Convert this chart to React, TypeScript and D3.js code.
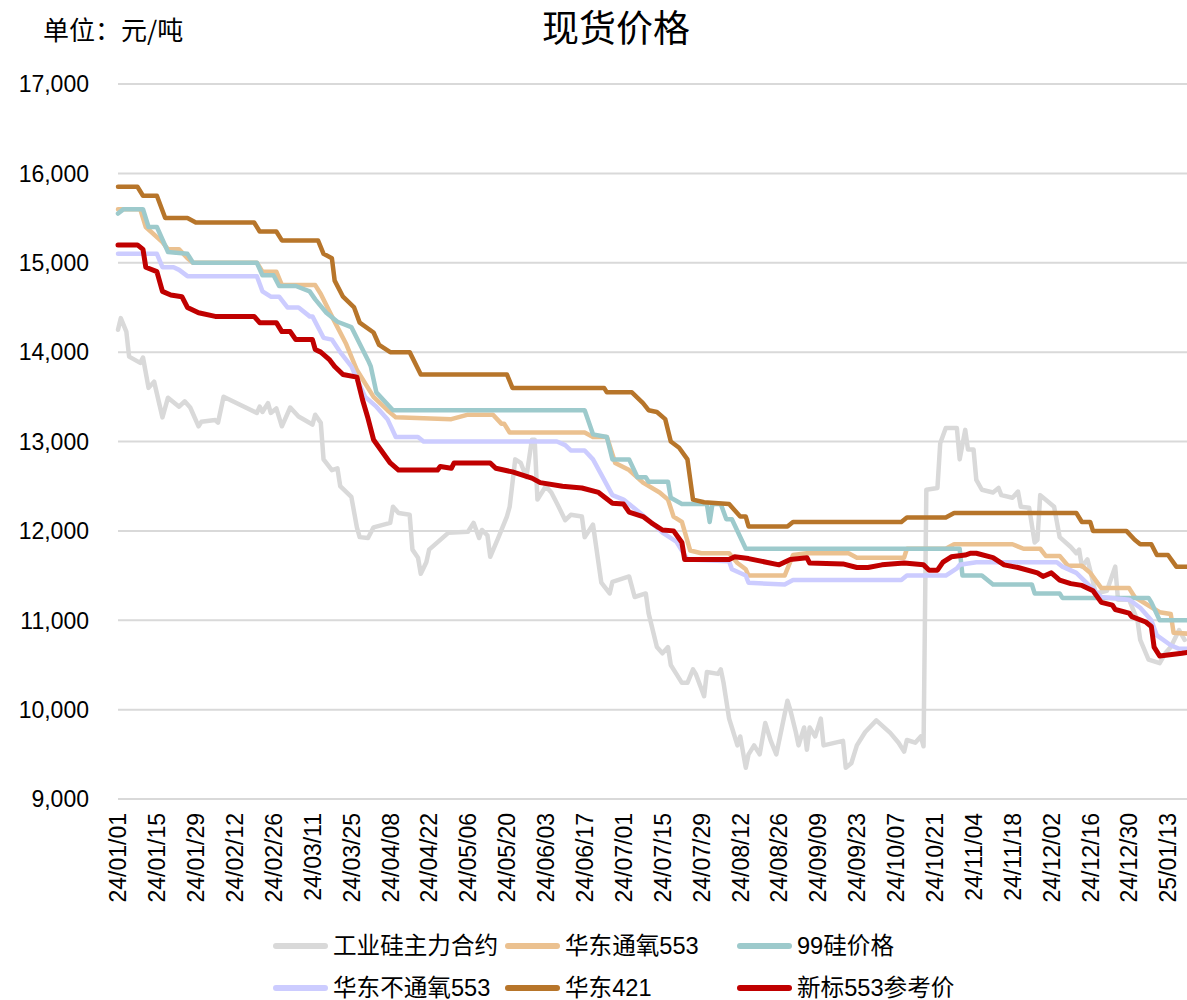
import React, { useEffect, useRef } from 'react';
import * as d3 from 'd3';

type Pt = [string, number];

// 工业硅主力合约
const gyg: Pt[] = [
  ['24-01-01', 14250], ['24-01-02', 14380], ['24-01-04', 14230], ['24-01-05', 13950], ['24-01-09', 13880],
  ['24-01-10', 13940], ['24-01-12', 13600], ['24-01-14', 13670], ['24-01-17', 13270], ['24-01-19', 13490],
  ['24-01-23', 13390], ['24-01-25', 13450], ['24-01-27', 13380], ['24-01-30', 13170], ['24-01-31', 13220],
  ['24-02-05', 13240], ['24-02-06', 13210], ['24-02-08', 13500], ['24-02-20', 13320], ['24-02-21', 13390],
  ['24-02-22', 13330], ['24-02-24', 13430], ['24-02-25', 13320], ['24-02-27', 13370], ['24-02-29', 13170],
  ['24-03-03', 13380], ['24-03-06', 13280], ['24-03-11', 13190], ['24-03-12', 13300], ['24-03-14', 13210],
  ['24-03-15', 12800], ['24-03-18', 12680], ['24-03-20', 12700], ['24-03-21', 12500], ['24-03-25', 12380],
  ['24-03-27', 12040], ['24-03-28', 11930], ['24-03-31', 11920], ['24-04-02', 12040], ['24-04-08', 12090],
  ['24-04-09', 12270], ['24-04-11', 12200], ['24-04-15', 12180], ['24-04-16', 11790], ['24-04-18', 11700],
  ['24-04-19', 11520], ['24-04-21', 11650], ['24-04-22', 11790], ['24-04-29', 11980], ['24-05-06', 11990],
  ['24-05-08', 12090], ['24-05-10', 11920], ['24-05-11', 12010], ['24-05-13', 11950], ['24-05-14', 11710],
  ['24-05-17', 11930], ['24-05-20', 12160], ['24-05-21', 12270], ['24-05-23', 12800], ['24-05-25', 12760],
  ['24-05-27', 12600], ['24-05-29', 13020], ['24-05-30', 13020], ['24-05-31', 12350], ['24-06-03', 12500],
  ['24-06-05', 12430], ['24-06-07', 12310], ['24-06-10', 12120], ['24-06-12', 12180], ['24-06-16', 12160],
  ['24-06-17', 11930], ['24-06-20', 12070], ['24-06-23', 11420], ['24-06-26', 11300], ['24-06-27', 11430],
  ['24-07-03', 11490], ['24-07-05', 11260], ['24-07-09', 11300], ['24-07-10', 11080], ['24-07-13', 10700],
  ['24-07-15', 10630], ['24-07-17', 10700], ['24-07-18', 10500], ['24-07-20', 10400], ['24-07-22', 10300],
  ['24-07-24', 10300], ['24-07-26', 10450], ['24-07-27', 10400], ['24-07-30', 10150], ['24-07-31', 10420],
  ['24-08-04', 10400], ['24-08-05', 10450], ['24-08-06', 10300], ['24-08-08', 9900], ['24-08-09', 9800],
  ['24-08-11', 9600], ['24-08-12', 9700], ['24-08-14', 9350], ['24-08-15', 9500], ['24-08-17', 9600],
  ['24-08-19', 9500], ['24-08-21', 9850], ['24-08-23', 9650], ['24-08-25', 9500], ['24-08-27', 9800],
  ['24-08-29', 10100], ['24-08-30', 10000], ['24-09-01', 9750], ['24-09-02', 9600], ['24-09-04', 9800],
  ['24-09-05', 9550], ['24-09-06', 9800], ['24-09-08', 9700], ['24-09-10', 9900], ['24-09-11', 9600],
  ['24-09-18', 9650], ['24-09-19', 9350], ['24-09-21', 9400], ['24-09-23', 9600], ['24-09-26', 9750],
  ['24-09-30', 9880], ['24-10-05', 9740], ['24-10-08', 9630], ['24-10-10', 9530], ['24-10-11', 9660],
  ['24-10-14', 9630], ['24-10-16', 9700], ['24-10-17', 9590], ['24-10-18', 12460], ['24-10-22', 12480],
  ['24-10-23', 12980], ['24-10-25', 13150], ['24-10-29', 13150], ['24-10-30', 12800], ['24-11-01', 13130],
  ['24-11-02', 12910], ['24-11-04', 12910], ['24-11-05', 12570], ['24-11-07', 12460], ['24-11-11', 12430],
  ['24-11-13', 12480], ['24-11-14', 12400], ['24-11-18', 12370], ['24-11-20', 12440], ['24-11-21', 12270],
  ['24-11-24', 12260], ['24-11-26', 11870], ['24-11-27', 11900], ['24-11-28', 12400], ['24-12-03', 12270],
  ['24-12-05', 11930], ['24-12-09', 11820], ['24-12-11', 11750], ['24-12-12', 11790], ['24-12-13', 11600],
  ['24-12-15', 11680], ['24-12-16', 11560], ['24-12-18', 11300], ['24-12-22', 11330], ['24-12-25', 11600],
  ['24-12-26', 11230], ['24-12-30', 11230], ['25-01-02', 11000], ['25-01-03', 10780], ['25-01-06', 10560],
  ['25-01-10', 10520], ['25-01-12', 10630], ['25-01-14', 10700], ['25-01-17', 10890], ['25-01-19', 10780],
];

// 华东通氧553
const hdty553: Pt[] = [
  ['24-01-01', 15600], ['24-01-09', 15600], ['24-01-11', 15400], ['24-01-17', 15230], ['24-01-19', 15150],
  ['24-01-23', 15150], ['24-01-26', 15050], ['24-01-28', 15000], ['24-02-20', 15000], ['24-02-22', 14900],
  ['24-02-27', 14900], ['24-02-29', 14750], ['24-03-12', 14750], ['24-03-14', 14650], ['24-03-18', 14400],
  ['24-03-23', 14100], ['24-03-27', 13800], ['24-04-02', 13500], ['24-04-07', 13350], ['24-04-10', 13270],
  ['24-04-30', 13250], ['24-05-06', 13300], ['24-05-15', 13300], ['24-05-18', 13200], ['24-05-19', 13200],
  ['24-05-21', 13100], ['24-06-17', 13100], ['24-06-20', 13050], ['24-06-25', 13050], ['24-06-28', 12760],
  ['24-07-03', 12680], ['24-07-08', 12540], ['24-07-14', 12430], ['24-07-17', 12350], ['24-07-19', 12160],
  ['24-07-22', 12100], ['24-07-25', 11780], ['24-07-29', 11750], ['24-08-08', 11750], ['24-08-11', 11640],
  ['24-08-14', 11570], ['24-08-15', 11500], ['24-08-28', 11500], ['24-08-31', 11730], ['24-09-05', 11750],
  ['24-09-20', 11750], ['24-09-23', 11700], ['24-10-10', 11700], ['24-10-11', 11800], ['24-10-25', 11800],
  ['24-10-28', 11850], ['24-11-18', 11850], ['24-11-22', 11800], ['24-11-28', 11800], ['24-11-30', 11720],
  ['24-12-05', 11720], ['24-12-08', 11610], ['24-12-13', 11610], ['24-12-16', 11530], ['24-12-20', 11360],
  ['24-12-30', 11360], ['25-01-01', 11260], ['25-01-10', 11090], ['25-01-14', 11070], ['25-01-15', 10860],
  ['25-01-20', 10850],
];

// 99硅价格
const si99: Pt[] = [
  ['24-01-01', 15550], ['24-01-03', 15600], ['24-01-10', 15600], ['24-01-12', 15400], ['24-01-15', 15400],
  ['24-01-19', 15120], ['24-01-26', 15100], ['24-01-28', 15000], ['24-02-20', 15000], ['24-02-22', 14860],
  ['24-02-26', 14860], ['24-02-28', 14740], ['24-03-05', 14740], ['24-03-10', 14680], ['24-03-12', 14590],
  ['24-03-16', 14440], ['24-03-20', 14340], ['24-03-25', 14280], ['24-03-31', 13910], ['24-04-01', 13840],
  ['24-04-03', 13550], ['24-04-09', 13350], ['24-06-17', 13350], ['24-06-20', 13080], ['24-06-25', 13050],
  ['24-06-27', 12800], ['24-07-03', 12800], ['24-07-06', 12600], ['24-07-09', 12600], ['24-07-10', 12550],
  ['24-07-17', 12550], ['24-07-18', 12370], ['24-07-22', 12300], ['24-07-31', 12300], ['24-08-01', 12100],
  ['24-08-02', 12300], ['24-08-05', 12300], ['24-08-07', 12130], ['24-08-09', 12130], ['24-08-14', 11800],
  ['24-10-30', 11800], ['24-10-31', 11500], ['24-11-07', 11500], ['24-11-11', 11400], ['24-11-25', 11400],
  ['24-11-26', 11300], ['24-12-05', 11300], ['24-12-06', 11250], ['25-01-06', 11250], ['25-01-07', 11200],
  ['25-01-10', 11000], ['25-01-20', 11000],
];

// 华东不通氧553
const hdbty553: Pt[] = [
  ['24-01-01', 15100], ['24-01-15', 15100], ['24-01-17', 14950], ['24-01-21', 14950], ['24-01-23', 14920],
  ['24-01-26', 14850], ['24-02-20', 14850], ['24-02-22', 14680], ['24-02-25', 14620], ['24-02-28', 14620],
  ['24-03-02', 14500], ['24-03-06', 14500], ['24-03-10', 14400], ['24-03-11', 14400], ['24-03-15', 14160],
  ['24-03-18', 14140], ['24-03-21', 14000], ['24-03-25', 13840], ['24-03-30', 13500], ['24-04-03', 13390],
  ['24-04-07', 13250], ['24-04-10', 13050], ['24-04-18', 13050], ['24-04-20', 13000], ['24-06-07', 13000],
  ['24-06-10', 12960], ['24-06-12', 12900], ['24-06-17', 12900], ['24-06-20', 12800], ['24-06-23', 12630],
  ['24-06-27', 12400], ['24-07-01', 12350], ['24-07-07', 12200], ['24-07-10', 12120], ['24-07-15', 11980],
  ['24-07-20', 11880], ['24-07-24', 11680], ['24-08-08', 11660], ['24-08-09', 11570], ['24-08-14', 11500],
  ['24-08-15', 11420], ['24-08-28', 11400], ['24-08-31', 11450], ['24-10-09', 11450], ['24-10-11', 11500],
  ['24-10-25', 11500], ['24-10-29', 11580], ['24-10-30', 11620], ['24-11-05', 11650], ['24-12-04', 11650],
  ['24-12-06', 11600], ['24-12-11', 11530], ['24-12-16', 11380], ['24-12-20', 11260], ['24-12-30', 11230],
  ['25-01-03', 11140], ['25-01-07', 11000], ['25-01-09', 10830], ['25-01-14', 10720], ['25-01-17', 10680],
  ['25-01-20', 10680],
];

// 华东421
const hd421: Pt[] = [
  ['24-01-01', 15850], ['24-01-08', 15850], ['24-01-10', 15750], ['24-01-15', 15750], ['24-01-18', 15500],
  ['24-01-26', 15500], ['24-01-29', 15450], ['24-02-19', 15450], ['24-02-21', 15350], ['24-02-27', 15350],
  ['24-02-29', 15250], ['24-03-13', 15250], ['24-03-15', 15100], ['24-03-18', 15050], ['24-03-19', 14800],
  ['24-03-22', 14620], ['24-03-26', 14500], ['24-03-28', 14330], ['24-04-02', 14220], ['24-04-04', 14080],
  ['24-04-08', 14000], ['24-04-15', 14000], ['24-04-19', 13750], ['24-05-20', 13750], ['24-05-22', 13600],
  ['24-06-24', 13600], ['24-06-25', 13550], ['24-07-04', 13550], ['24-07-08', 13430], ['24-07-10', 13350],
  ['24-07-13', 13330], ['24-07-16', 13250], ['24-07-18', 13000], ['24-07-21', 12930], ['24-07-24', 12800],
  ['24-07-26', 12350], ['24-07-30', 12320], ['24-08-08', 12300], ['24-08-12', 12160], ['24-08-14', 12160],
  ['24-08-15', 12050], ['24-08-29', 12050], ['24-08-31', 12100], ['24-10-09', 12100], ['24-10-11', 12150],
  ['24-10-25', 12150], ['24-10-28', 12200], ['24-12-11', 12200], ['24-12-13', 12100], ['24-12-16', 12100],
  ['24-12-17', 12000], ['24-12-29', 12000], ['25-01-01', 11900], ['25-01-03', 11850], ['25-01-07', 11850],
  ['25-01-09', 11730], ['25-01-13', 11730], ['25-01-16', 11600], ['25-01-20', 11600],
];

// 新标553参考价
const xb553: Pt[] = [
  ['24-01-01', 15200], ['24-01-08', 15200], ['24-01-10', 15150], ['24-01-11', 14950], ['24-01-15', 14900],
  ['24-01-17', 14680], ['24-01-20', 14640], ['24-01-24', 14620], ['24-01-26', 14500], ['24-01-30', 14440],
  ['24-02-05', 14400], ['24-02-19', 14400], ['24-02-21', 14330], ['24-02-27', 14330], ['24-02-29', 14230],
  ['24-03-03', 14230], ['24-03-05', 14140], ['24-03-11', 14140], ['24-03-12', 14030], ['24-03-14', 14000],
  ['24-03-17', 13920], ['24-03-19', 13840], ['24-03-22', 13750], ['24-03-27', 13720], ['24-03-29', 13470],
  ['24-03-31', 13260], ['24-04-02', 13020], ['24-04-08', 12760], ['24-04-11', 12680], ['24-04-25', 12680],
  ['24-04-26', 12720], ['24-04-30', 12700], ['24-05-01', 12760], ['24-05-14', 12760], ['24-05-16', 12700],
  ['24-05-22', 12660], ['24-05-29', 12590], ['24-06-01', 12540], ['24-06-09', 12500], ['24-06-16', 12480],
  ['24-06-22', 12430], ['24-06-27', 12310], ['24-07-01', 12300], ['24-07-03', 12210], ['24-07-08', 12160],
  ['24-07-11', 12090], ['24-07-15', 12010], ['24-07-19', 12000], ['24-07-22', 11870], ['24-07-23', 11680],
  ['24-08-08', 11680], ['24-08-10', 11710], ['24-08-15', 11690], ['24-08-26', 11620], ['24-08-30', 11680],
  ['24-09-05', 11700], ['24-09-06', 11640], ['24-09-18', 11630], ['24-09-23', 11590], ['24-09-27', 11590],
  ['24-10-02', 11620], ['24-10-10', 11640], ['24-10-17', 11620], ['24-10-19', 11560], ['24-10-22', 11560],
  ['24-10-24', 11650], ['24-10-27', 11710], ['24-11-01', 11730], ['24-11-03', 11750], ['24-11-05', 11750],
  ['24-11-11', 11700], ['24-11-15', 11620], ['24-11-20', 11590], ['24-11-27', 11530], ['24-11-29', 11490],
  ['24-12-02', 11530], ['24-12-05', 11450], ['24-12-09', 11410], ['24-12-13', 11390], ['24-12-17', 11330],
  ['24-12-20', 11200], ['24-12-24', 11170], ['24-12-25', 11120], ['24-12-30', 11080], ['24-12-31', 11040],
  ['25-01-05', 10980], ['25-01-07', 10930], ['25-01-08', 10700], ['25-01-10', 10600], ['25-01-18', 10630],
  ['25-01-20', 10640],
];

const seriesNames = ['工业硅主力合约', '华东通氧553', '99硅价格', '华东不通氧553', '华东421', '新标553参考价'];
const seriesData = [gyg, hdty553, si99, hdbty553, hd421, xb553];
const seriesColors = ['#D9D9D9', '#EBC190', '#9DCACC', '#CCCCFF', '#B7752A', '#C00000'];
const yTicks = [9000, 10000, 11000, 12000, 13000, 14000, 15000, 16000, 17000];

const FONT = '"Liberation Sans", Arial, "Noto Sans CJK SC", sans-serif';
const CJK_FONT = '"Noto Sans CJK SC", sans-serif';

const App: React.FC = () => {
  const svgRef = useRef<SVGSVGElement>(null);

  useEffect(() => {
    if (!svgRef.current) return;
    const svg = d3.select(svgRef.current);
    svg.selectAll('*').remove();

    const width = 1187;
    const height = 1000;
    const parse = d3.timeParse('%y-%m-%d');
    const fmt = d3.timeFormat('%y/%m/%d');

    const x = d3.scaleTime()
      .domain([parse('24-01-01')!, parse('25-01-13')!])
      .range([118, 1168]);
    const y = d3.scaleLinear().domain([9000, 17000]).range([799, 84]);

    svg.attr('width', width).attr('height', height).style('font-family', FONT);
    svg.append('rect').attr('width', width).attr('height', height).attr('fill', '#fff');

    // gridlines
    svg.append('g')
      .selectAll('line')
      .data(yTicks)
      .join('line')
      .attr('x1', 118)
      .attr('x2', width)
      .attr('y1', d => y(d))
      .attr('y2', d => y(d))
      .attr('stroke', '#D9D9D9')
      .attr('stroke-width', 2);

    // y labels
    svg.append('g')
      .selectAll('text')
      .data(yTicks)
      .join('text')
      .attr('x', 89)
      .attr('y', d => y(d))
      .attr('dy', '0.36em')
      .attr('text-anchor', 'end')
      .attr('font-size', 23)
      .attr('fill', '#000')
      .text(d => d3.format(',')(d));

    // x labels, every 14 days
    const xTicks = d3.timeDay.range(parse('24-01-01')!, parse('25-01-20')!, 14);
    svg.append('g')
      .selectAll('text')
      .data(xTicks)
      .join('text')
      .attr('transform', d => `translate(${x(d)},813) rotate(-90)`)
      .attr('dy', '0.36em')
      .attr('text-anchor', 'end')
      .attr('font-size', 23)
      .attr('fill', '#000')
      .text(d => fmt(d));

    // lines
    const line = d3.line<Pt>()
      .x(d => x(parse(d[0])!))
      .y(d => y(d[1]));

    seriesData.forEach((data, i) => {
      svg.append('path')
        .datum(data)
        .attr('d', line)
        .attr('fill', 'none')
        .attr('stroke', seriesColors[i])
        .attr('stroke-width', i === 5 ? 5 : 4.5)
        .attr('stroke-linejoin', 'round')
        .attr('stroke-linecap', 'round');
    });

    // title
    svg.append('text')
      .attr('x', 616)
      .attr('y', 42)
      .attr('text-anchor', 'middle')
      .attr('font-size', 37)
      .attr('font-family', CJK_FONT)
      .attr('fill', '#000')
      .text('现货价格');

    svg.append('text')
      .attr('x', 43)
      .attr('y', 40)
      .attr('font-size', 26)
      .attr('font-family', CJK_FONT)
      .attr('fill', '#000')
      .text('单位：元/吨');

    // legend
    const legendCols = [273, 505, 737];
    const legendRows = [946, 988];
    const lg = svg.append('g');
    seriesNames.forEach((name, k) => {
      const cx = legendCols[k % 3];
      const cy = legendRows[Math.floor(k / 3)];
      lg.append('line')
        .attr('x1', cx + 3)
        .attr('x2', cx + 52)
        .attr('y1', cy)
        .attr('y2', cy)
        .attr('stroke', seriesColors[k])
        .attr('stroke-width', 6)
        .attr('stroke-linecap', 'round');
      lg.append('text')
        .attr('x', cx + 60)
        .attr('y', cy)
        .attr('dy', '0.36em')
        .attr('font-size', 23.6)
        .attr('fill', '#000')
        .text(name);
    });
  }, []);

  return (
    <svg
      ref={svgRef}
      style={{ position: 'absolute', left: 0, top: 0, display: 'block', overflow: 'hidden' }}
    />
  );
};

export default App;
